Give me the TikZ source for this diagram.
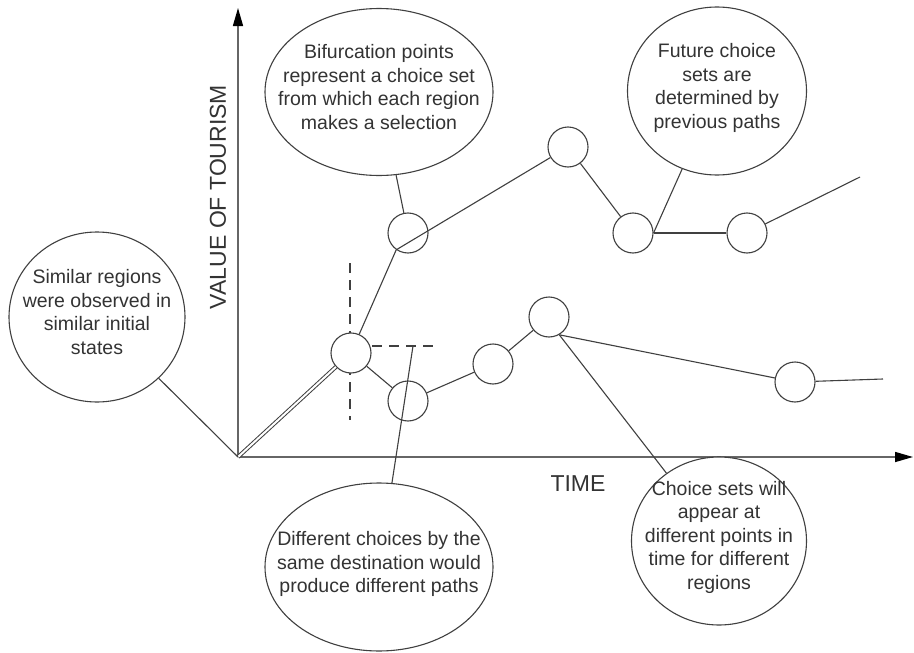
\documentclass[tikz,border=0pt]{standalone}
\usepackage{fontspec}
\setmainfont{Liberation Sans}
\usetikzlibrary{arrows.meta,shapes.geometric}
\begin{document}
\begin{tikzpicture}[x=1pt,y=-1pt,
  ln/.style={draw=black!75, line width=1.1pt},
  axis/.style={draw=black!60, line width=1.5pt,
    -{Triangle[length=18pt,width=10pt,color=black]}},
  pt/.style={circle, draw=black!75, line width=1.1pt, fill=white,
    minimum size=40pt, inner sep=0pt},
  callout/.style={ellipse, draw=black!75, line width=1.1pt, fill=white,
    inner sep=0pt},
  callouttext/.style={align=center, inner sep=0pt, text=black!80,
    font=\fontsize{19.5}{23.5}\selectfont},
  guide/.style={draw=black!75, line width=1.1pt, dash pattern=on 10pt off 7pt},
  axlabel/.style={text=black!80, font=\fontsize{23}{26}\selectfont}
]
\useasboundingbox (0,0) rectangle (914,653);
\fill[white] (0,0) rectangle (914,653);

% axes
\coordinate (O) at (238,457);
\coordinate (xend) at (913,457);
\coordinate (yend) at (238,8);
\draw[axis] (O) -- (xend);
\draw[axis] (O) -- (yend);
\node[axlabel, rotate=90] (ylab) at (218,197) {VALUE OF TOURISM};
\node[axlabel] (xlab) at (578,484) {TIME};

% dashed guides through the bifurcation point
\coordinate (vtop) at (350,263);
\coordinate (vbot) at (350,420);
\coordinate (hstart) at (372,346);
\coordinate (hend) at (437,346);
\coordinate (dsplit) at (413,346);
\draw[guide] (vtop) -- (vbot);
\draw[guide] (hstart) -- (hend);

% choice points
\node[pt] (A) at (351,353) {};
\node[pt] (B) at (408,401) {};
\node[pt] (C) at (408,233) {};
\node[pt] (D) at (568,147) {};
\node[pt] (E) at (633,233) {};
\node[pt] (F) at (747,233) {};
\node[pt] (G) at (493,364) {};
\node[pt] (H) at (549,317) {};
\node[pt] (I) at (795,382) {};
\coordinate (Fend) at (860,177);
\coordinate (Iend) at (883,379);

% shared start
\draw[ln, double=white, double distance=2pt, line width=1pt] (O) -- (A);

% upper path
\draw[ln] (A) -- (C.235) -- (D);
\draw[ln] (D) -- (E);
\draw[ln] (E) -- (F);
\draw[ln] (F) -- (Fend);

% lower path
\draw[ln] (A) -- (B);
\draw[ln] (B) -- (G);
\draw[ln] (G) -- (H);
\draw[ln] (H.-60) -- (I);
\draw[ln] (I) -- (Iend);

% callouts
\node[callout, minimum width=176pt, minimum height=170pt] (S) at (97,317) {};
\node[callouttext] (Stext) at (97,312)
  {Similar regions\\were observed in\\similar initial\\states};
\node[callout, minimum width=228pt, minimum height=167pt] (Bf) at (379,92) {};
\node[callouttext] (Bftext) at (379,87)
  {Bifurcation points\\represent a choice set\\from which each region\\makes a selection};
\node[callout, minimum width=179pt, minimum height=168pt] (Fu) at (717,91) {};
\node[callouttext] (Futext) at (717,88)
  {Future choice\\sets are\\determined by\\previous paths};
\node[callout, minimum width=175pt, minimum height=168pt] (Ch) at (719,541) {};
\node[callouttext] (Chtext) at (719,537)
  {Choice sets will\\appear at\\different points in\\time for different\\regions};
\node[callout, minimum width=228pt, minimum height=168pt] (Df) at (379,567) {};
\node[callouttext] (Dftext) at (379,564)
  {Different choices by the\\same destination would\\produce different paths};

\draw[ln] (S) -- (O);
\draw[ln] (Bf) -- (C);
\draw[ln] (Fu) -- (E.east);
\draw[ln] (H.-60) -- (Ch);
\draw[ln] (dsplit) -- (Df);
\end{tikzpicture}
\end{document}
